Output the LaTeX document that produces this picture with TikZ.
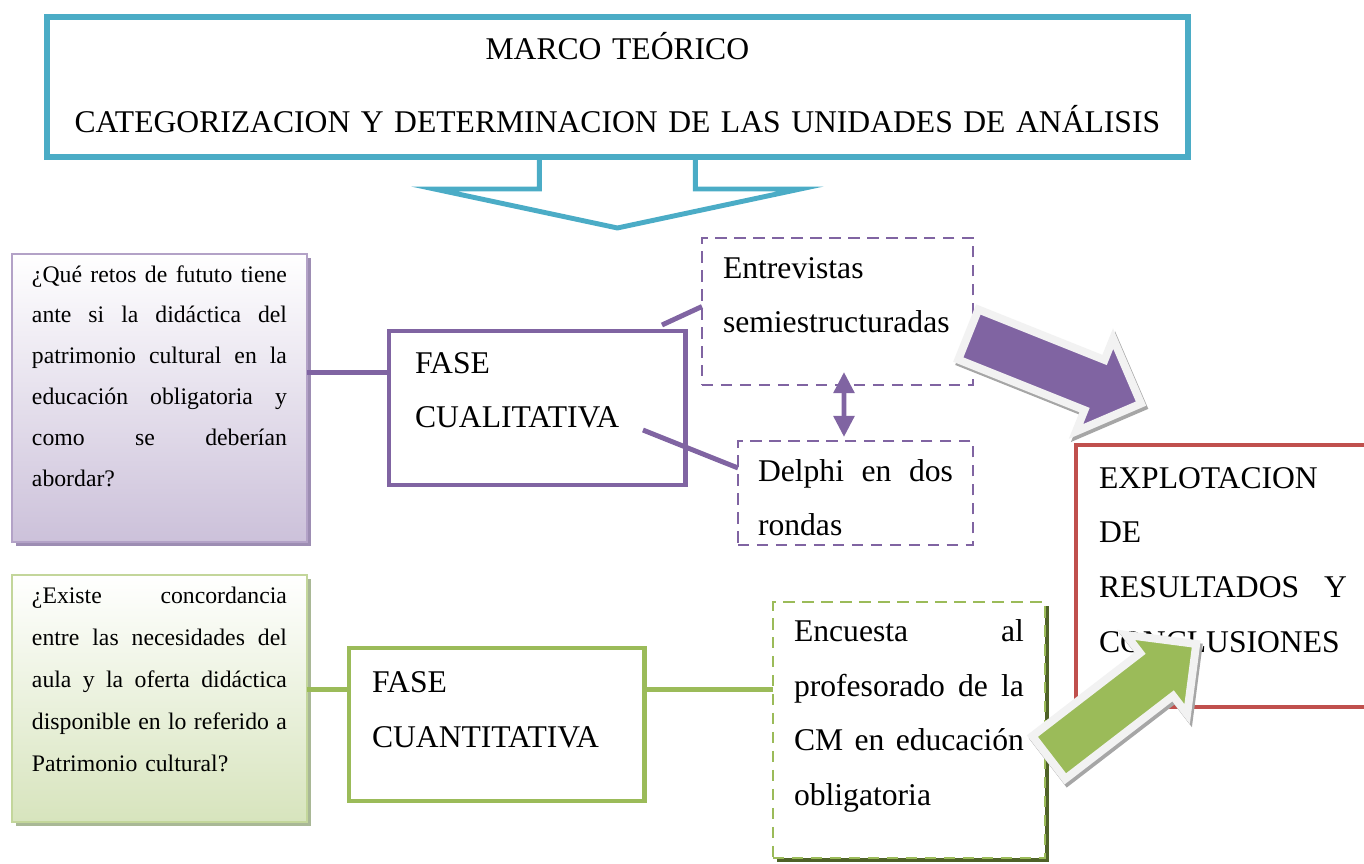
\documentclass[tikz,border=0pt]{standalone}
\usepackage{fontspec}
\setmainfont{Liberation Serif}
\usepackage{tikz}
\usetikzlibrary{shapes,arrows.meta,calc,shadows}

\definecolor{mtBlue}{HTML}{4BACC6}
\definecolor{cualPurple}{HTML}{8064A2}
\definecolor{cualLight}{HTML}{B3A2C7}
\definecolor{cualFill}{HTML}{CCC1DA}
\definecolor{cualShadow}{HTML}{9D8DB3}
\definecolor{cuantGreen}{HTML}{9BBB59}
\definecolor{cuantLight}{HTML}{C3D69B}
\definecolor{cuantFill}{HTML}{D7E4BD}
\definecolor{cuantShadow}{HTML}{A9B896}
\definecolor{encShadow}{HTML}{4F6228}
\definecolor{resRed}{HTML}{C0504D}
\definecolor{rimGray}{HTML}{F2F2F2}
\definecolor{rimShadow}{HTML}{A6A6A6}

\newcommand{\jl}[1]{\makebox[\hsize][s]{\spaceskip=\fontdimen2\font plus 1fil\relax #1}}
\newcommand{\arrowshape}{(-4,-27) -- (132,-27) -- (132,-50) -- (182,0) -- (132,50) -- (132,27) -- (-4,27) -- cycle}
\newcommand{\blockarrow}[3]{%
  \filldraw [rimShadow, line width=4.5pt, line join=miter, xshift=1.2pt, yshift=-1.8pt, shift={#1}, rotate=#2] \arrowshape;
  \filldraw [fill=#3, draw=rimGray, line width=4.5pt, line join=miter, shift={#1}, rotate=#2] \arrowshape;}

\tikzstyle{textbox} = [anchor=north west, outer sep=0pt, inner ysep=0pt, align=left, font=\fontsize{18}{31.3}\selectfont]
\tikzstyle{phase} = [textbox, draw, line width=2.8pt, fill=white]
\tikzstyle{method} = [textbox, draw, line width=1.6pt, dash pattern=on 6.5pt off 4.3pt, fill=white]
\tikzstyle{question} = [textbox, draw, line width=1.1pt, inner xsep=0.4cm, text width=5.1cm, text height=0.56cm, font=\fontsize{13.5}{23.3}\selectfont]
\tikzstyle{connector} = [line width=2.8pt, line join=miter]

\begin{document}
\begin{tikzpicture}[x=0.02cm, y=-0.02cm]
    \useasboundingbox (0,0) rectangle (1364,863);
    \clip (0,0) rectangle (1364,863);

    % Drawing blocks and nodes
    \node [textbox, draw=mtBlue, line width=3.4pt, align=center, minimum width=22.82cm, text width=22.6cm, inner xsep=0pt, text height=0.86cm, text depth=1.94cm, font=\fontsize{18}{41}\selectfont] (marco) at (47,17) {MARCO TEÓRICO\\CATEGORIZACION Y DETERMINACION DE LAS UNIDADES DE ANÁLISIS};
    \node [question, draw=cualLight, top color=white, bottom color=cualFill, text depth=5.2cm, drop shadow={shadow xshift=2.2pt, shadow yshift=-2.2pt, fill=cualShadow, opacity=1}] (pregA) at (12,254) {\jl{¿Qué retos de fututo tiene}\\
        \jl{ante si la didáctica del}\\
        \jl{patrimonio cultural en la}\\
        \jl{educación obligatoria y}\\
        \jl{como se deberían}\\
        abordar?};
    \node [question, draw=cuantLight, top color=white, bottom color=cuantFill, text depth=4.38cm, font=\fontsize{13.5}{24}\selectfont, drop shadow={shadow xshift=2.2pt, shadow yshift=-2.2pt, fill=cuantShadow, opacity=1}] (pregB) at (12,575) {\jl{¿Existe concordancia}\\
        \jl{entre las necesidades del}\\
        \jl{aula y la oferta didáctica}\\
        \jl{disponible en lo referido a}\\
        Patrimonio cultural?};
    \node [phase, draw=cualPurple, inner xsep=0.52cm, text width=4.9cm, text height=0.84cm, text depth=2.24cm] (faseA) at (389,331) {FASE\\CUALITATIVA};
    \node [phase, draw=cuantGreen, inner xsep=0.46cm, text width=5cm, text height=0.88cm, text depth=2.18cm] (faseB) at (349,648) {FASE\\CUANTITATIVA};
    \node [method, draw=cualPurple, inner xsep=0.42cm, text width=4.58cm, text height=0.8cm, text depth=2.14cm] (entre) at (702,238) {Entrevistas\\semiestructuradas};
    \node [method, draw=cualPurple, inner xsep=0.4cm, text width=3.9cm, text height=0.8cm, text depth=1.28cm] (delphi) at (738,441) {\jl{Delphi en dos}\\rondas};
    \node [method, draw=cuantGreen, inner xsep=0.42cm, text width=4.6cm, text height=0.78cm, text depth=4.34cm, drop shadow={shadow xshift=2.3pt, shadow yshift=-2.3pt, fill=encShadow, opacity=1}] (encu) at (773,602) {\jl{Encuesta al}\\
        \jl{profesorado de la}\\
        \jl{CM en educación}\\
        obligatoria};
    \node [phase, draw=resRed, inner xsep=0.46cm, text width=4.96cm, text height=0.86cm, text depth=4.38cm] (result) at (1076,445) {EXPLOTACION\\DE\\\jl{RESULTADOS Y}\\CONCLUSIONES};

    % Connectors
    \draw [connector, mtBlue] ($(marco.south)+(-78,0)$) -- ++(0,32) -- ++(-105,0) -- ++(183,39) -- ++(183,-39) -- ++(-105,0) -- ++(0,-32);
    \path (faseA.north west) -- (faseA.south west) coordinate[pos=0.27] (pL);
    \draw [connector, cualPurple] (pL -| pregA.east) -- (pL);
    \draw [connector, cualPurple] ($(faseA.north east)+(-24,-6)$) -- ($(entre.west)+(0,-5)$);
    \draw [connector, cualPurple] ($(faseA.east)+(-43,22)$) -- ($(delphi.west)+(0,-25)$);
    \draw [connector, cualPurple, {Triangle[length=12pt,width=11.5pt]}-{Triangle[length=12pt,width=11.5pt]}] ($(entre.south)+(6.5,-13)$) -- ($(delphi.north)+(-11.5,-4)$);
    \path (faseB.north west) -- (faseB.south west) coordinate[pos=0.27] (gL);
    \path (faseB.north east) -- (faseB.south east) coordinate[pos=0.27] (gR);
    \draw [connector, cuantGreen] (gL -| pregB.east) -- (gL);
    \draw [connector, cuantGreen] (gR) -- (gR -| encu.west);

    % Block arrows towards the results
    \blockarrow{(972,336)}{-21.8}{cualPurple}
    \blockarrow{(1052,755)}{37.6}{cuantGreen}
\end{tikzpicture}
\end{document}
